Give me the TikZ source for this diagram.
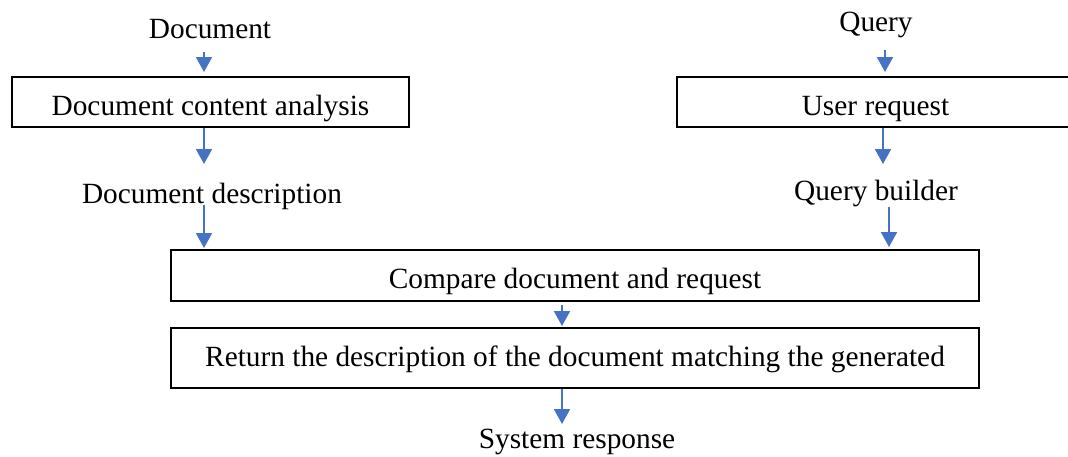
\documentclass[tikz,border=0pt]{standalone}
\usepackage{fontspec}
\setmainfont{Liberation Serif}
\usetikzlibrary{arrows.meta,positioning}
\definecolor{arrowblue}{RGB}{68,114,196}

\begin{document}
\begin{tikzpicture}[
  x=0.75pt, y=-0.75pt,
  box/.style={rectangle, draw=black, line width=2pt, inner sep=0pt, outer sep=0pt,
              minimum width=297.75pt, minimum height=37.5pt,
              text height=19.5pt, text depth=0pt, font=\fontsize{22}{26}\selectfont},
  txt/.style={anchor=base, inner sep=0pt, font=\fontsize{22}{26}\selectfont},
  arrow/.style={-{Triangle[length=11.25pt,width=12pt]}, line width=1.5pt, arrowblue}
]
\useasboundingbox (0,0) rectangle (1068,457);

% document side
\node[txt] (doc) at (210,38) {Document};
\node[box] (ana) at (210.5,102) {Document content analysis};
\node[txt] (desc) at (212,203) {Document description};

% query side
\node[txt] (query) at (876,31) {Query};
\node[box] (req) at (875.5,102) {User request};
\node[txt] (qb) at (876,200) {Query builder};

% matching
\node[box, minimum width=606pt, minimum height=38.25pt, text height=18.75pt] (cmp) at (575,275.5) {Compare document and request};
\node[box, minimum width=606pt, minimum height=45pt, text height=12pt] (ret) at (575,358) {Return the description of the document matching the generated};
\node[txt] (resp) at (577,448) {System response};

\draw[arrow, shorten <=10.5pt, shorten >=3.75pt] (doc.base -| 204,0) -- (ana.north -| 204,0);
\draw[arrow, shorten <=0.75pt, shorten >=29.25pt] (ana.south -| 204,0) -- (desc.base -| 204,0);
\draw[arrow, shorten <=1.5pt, shorten >=1.5pt] (desc.base -| 204,0) -- (cmp.north -| 204,0);

\draw[arrow, shorten <=14.25pt, shorten >=3.75pt] (query.base -| 885,0) -- (req.north -| 885,0);
\draw[arrow, shorten <=0.75pt, shorten >=27pt] (req.south -| 883,0) -- (qb.base -| 883,0);
\draw[arrow, shorten <=5.25pt, shorten >=2.25pt] (qb.base -| 889,0) -- (cmp.north -| 889,0);

\draw[arrow, shorten <=3pt, shorten >=1.5pt] (cmp.south -| 562,0) -- (ret.north -| 562,0);
\draw[arrow, shorten <=0.75pt, shorten >=18pt] (ret.south -| 562,0) -- (resp.base -| 562,0);

\end{tikzpicture}
\end{document}
